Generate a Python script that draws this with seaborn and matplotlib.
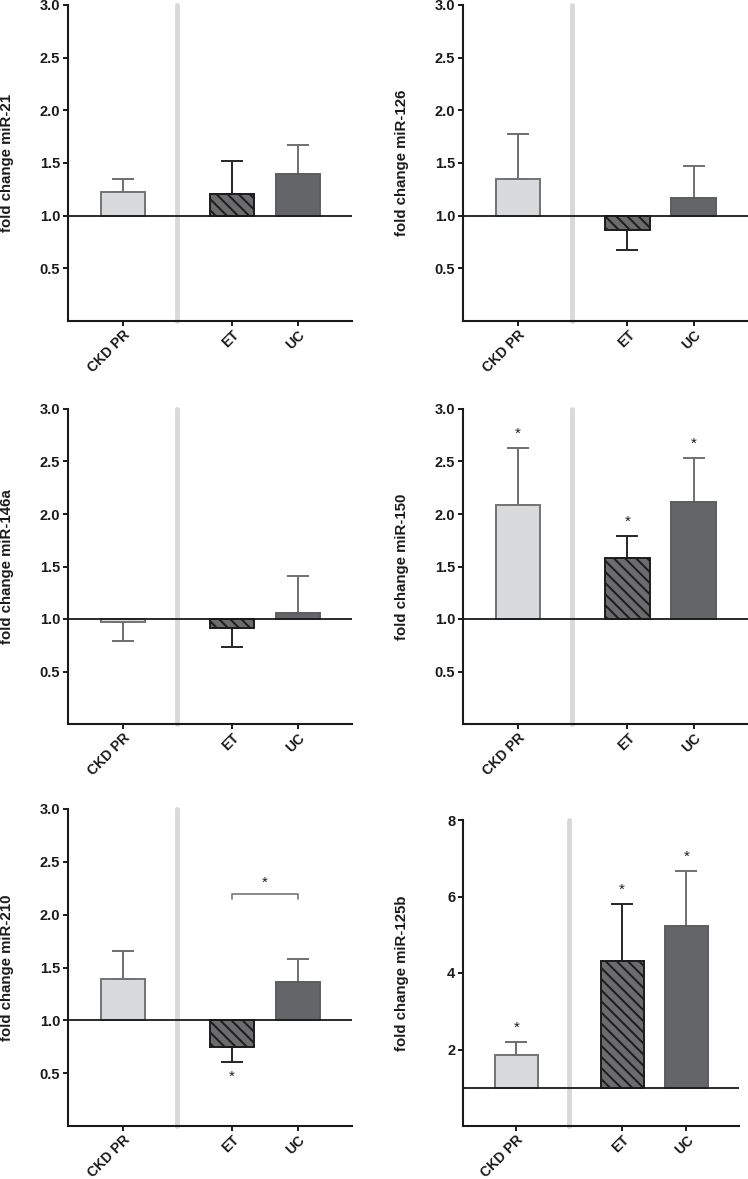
import numpy as np
import pandas as pd
import matplotlib
matplotlib.use("Agg")
import matplotlib.pyplot as plt
import seaborn as sns

# ---------------- data ----------------
groups = ["CKD PR", "ET", "UC"]
mirnas = ["miR-21", "miR-126", "miR-146a", "miR-150", "miR-210", "miR-125b"]

fold_mir21 = [1.22, 1.21, 1.40]
sem_mir21 = [0.13, 0.31, 0.27]
fold_mir126 = [1.35, 0.86, 1.17]
sem_mir126 = [0.43, 0.19, 0.30]
fold_mir146a = [0.97, 0.91, 1.06]
sem_mir146a = [0.18, 0.18, 0.35]
fold_mir150 = [2.09, 1.58, 2.11]
sem_mir150 = [0.54, 0.21, 0.42]
fold_mir210 = [1.39, 0.75, 1.36]
sem_mir210 = [0.27, 0.14, 0.22]
fold_mir125b = [1.85, 4.31, 5.23]
sem_mir125b = [0.35, 1.49, 1.44]

sig_mir150 = [True, True, True]
sig_mir210 = [False, True, False]
sig_mir125b = [True, True, True]
sig_none = [False, False, False]
bracket_mir210 = ("ET", "UC")

yticks_fold = [0.5, 1.0, 1.5, 2.0, 2.5, 3.0]
yticks_125b = [2, 4, 6, 8]

panels = [
    ("miR-21", fold_mir21, sem_mir21, sig_none, None),
    ("miR-126", fold_mir126, sem_mir126, sig_none, None),
    ("miR-146a", fold_mir146a, sem_mir146a, sig_none, None),
    ("miR-150", fold_mir150, sem_mir150, sig_mir150, None),
    ("miR-210", fold_mir210, sem_mir210, sig_mir210, bracket_mir210),
    ("miR-125b", fold_mir125b, sem_mir125b, sig_mir125b, None),
]

# ---------------- layout / style ----------------
GROUP_X = {"CKD PR": 0.0, "ET": 1.65, "UC": 2.65}
SEP_X = 0.82
XLIM = (-0.83, 3.47)
FILL = {"CKD PR": "#d9dadc", "ET": "#6c6c6e", "UC": "#646569"}
EDGE = {"CKD PR": "#737373", "ET": "#1c1c1c", "UC": "#5c5d60"}
ERRC = {"CKD PR": "#6e6e6e", "ET": "#262626", "UC": "#707070"}
HATCH = {"CKD PR": None, "ET": "\\\\\\", "UC": None}
INK = "#1a1a1a"

W, H = 748, 1179
# axes boxes in pixels: (left, top, right, bottom)
BOXES = [
    (68, 5, 352, 321), (463, 5, 748, 321),
    (68, 409, 352, 724), (463, 409, 748, 724),
    (68, 809, 352, 1126), (463, 820, 739, 1126),
]

sns.set_theme(style="ticks")
plt.rcParams["font.family"] = ["Liberation Sans", "DejaVu Sans"]
plt.rcParams["hatch.linewidth"] = 1.4

fig = plt.figure(figsize=(W / 100, H / 100), dpi=100)

for (name, fold, sem, sig, bracket), (l, t, r, b) in zip(panels, BOXES):
    ax = fig.add_axes([l / W, 1 - b / H, (r - l) / W, (b - t) / H])
    df = pd.DataFrame({
        "group": groups,
        "x": [GROUP_X[g] for g in groups],
        "delta": np.array(fold) - 1.0,
    })
    sns.barplot(data=df, x="x", y="delta", hue="group", hue_order=groups,
                palette=FILL, native_scale=True, width=0.67, bottom=1.0,
                errorbar=None, legend=False, ax=ax, zorder=3)
    for p in ax.patches:
        cx = p.get_x() + p.get_width() / 2
        g = min(groups, key=lambda k: abs(GROUP_X[k] - cx))
        p.set_facecolor(FILL[g])
        p.set_edgecolor(EDGE[g])
        p.set_linewidth(1.4)
        if HATCH[g]:
            p.set_hatch(HATCH[g])

    # one-sided error bars away from baseline
    for g, v, s in zip(groups, fold, sem):
        yerr = [[0], [s]] if v >= 1 else [[s], [0]]
        ax.errorbar([GROUP_X[g]], [v], yerr=yerr, fmt="none", ecolor=ERRC[g],
                    elinewidth=1.4, capsize=8, capthick=1.4, zorder=2)

    ax.axhline(1.0, color=INK, lw=1.3, zorder=4)
    ax.axvline(SEP_X, ymin=0.0, ymax=1.0, color="#d9d9d9", lw=3.5,
               solid_capstyle="round", clip_on=False, zorder=1)

    # significance stars
    for g, v, s, flag in zip(groups, fold, sem, sig):
        if not flag:
            continue
        end = v + s if v >= 1 else v - s
        off = 7.5 if v >= 1 else -13.5
        ax.annotate("*", xy=(GROUP_X[g], end), xytext=(0, off),
                    textcoords="offset points", ha="center", va="baseline",
                    fontsize=11, color=INK)
    if bracket:
        x0, x1 = GROUP_X[bracket[0]], GROUP_X[bracket[1]]
        ax.plot([x0, x0, x1, x1], [2.15, 2.2, 2.2, 2.15], color="#777777",
                lw=1.2, zorder=3)
        ax.annotate("*", xy=((x0 + x1) / 2, 2.2), xytext=(0, 5),
                    textcoords="offset points", ha="center", va="baseline",
                    fontsize=11, color=INK)

    if name == "miR-125b":
        ax.set_ylim(0, 8)
        ax.set_yticks(yticks_125b)
        ax.set_yticklabels([str(v) for v in yticks_125b])
    else:
        ax.set_ylim(0, 3)
        ax.set_yticks(yticks_fold)
        ax.set_yticklabels([f"{v:.1f}" for v in yticks_fold])
    ax.set_xlim(*XLIM)
    ax.set_xticks([GROUP_X[g] for g in groups])
    ax.set_xticklabels(groups, rotation=45, ha="right", rotation_mode="anchor")
    ax.set_xlabel("")
    ax.set_ylabel(f"fold change {name}", fontsize=10.8, fontweight="bold",
                  color=INK)
    ax.yaxis.set_label_coords(-54 / (r - l), 0.5)

    for side in ("top", "right"):
        ax.spines[side].set_visible(False)
    for side in ("left", "bottom"):
        ax.spines[side].set_color(INK)
        ax.spines[side].set_linewidth(1.5)
    ax.tick_params(axis="both", length=3.5, width=1.4, color=INK, pad=2,
                   labelcolor=INK)
    ax.tick_params(axis="y", labelsize=10.5)
    ax.tick_params(axis="x", labelsize=10, pad=1.5)
    for lab in ax.get_xticklabels() + ax.get_yticklabels():
        lab.set_fontweight("bold")

fig.savefig("out.png", dpi=100)
